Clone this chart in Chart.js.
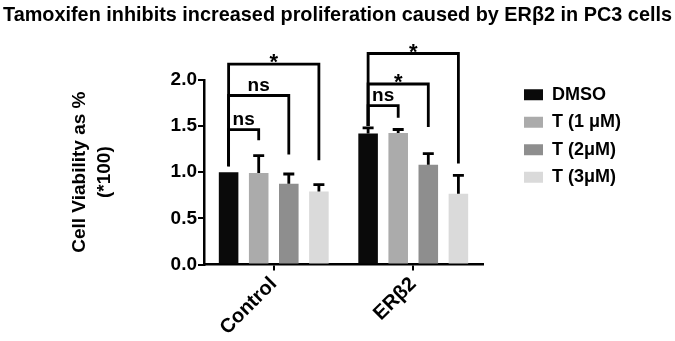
<!DOCTYPE html>
<html>
<head>
<meta charset="utf-8">
<script src="https://cdn.jsdelivr.net/npm/chart.js@4.4.0/dist/chart.umd.min.js"></script>
<style>
  html, body { margin: 0; padding: 0; background: #fff; }
  #wrap { width: 675px; height: 341px; }
</style>
</head>
<body>
<div id="wrap"><canvas id="chart"></canvas></div>
<script>
// data
const categories = ['Control', 'ERβ2'];
const seriesNames = ['DMSO', 'T (1 μM)', 'T (2μM)', 'T (3μM)'];
const dmso = [1.0, 1.42];
const t1 = [0.99, 1.425];
const t2 = [0.875, 1.08];
const t3 = [0.79, 0.765];
// upper error (SD) per series
const dmsoErr = [0, 0.06];
const t1Err = [0.19, 0.037];
const t2Err = [0.105, 0.12];
const t3Err = [0.075, 0.2];
const yTicks = [0, 0.5, 1.0, 1.5, 2.0];

// significance brackets: category, compared series, height, left foot, right foot, label
const bracketCat = [0, 0, 0, 1, 1, 1];
const bracketTo = [1, 2, 3, 1, 2, 3];
const bracketTop = [1.46, 1.83, 2.17, 1.72, 1.955, 2.285];
const bracketLeftFoot = [1.065, 1.065, 1.065, 1.5, 1.5, 1.5];
const bracketRightFoot = [1.345, 1.19, 1.13, 1.59, 1.49, 1.095];
const bracketLabel = ['ns', 'ns', '*', 'ns', '*', '*'];

const series = [dmso, t1, t2, t3];
const errors = [dmsoErr, t1Err, t2Err, t3Err];
const colors = ['#0a0a0a', '#ababab', '#8e8e8e', '#dadada'];

Chart.defaults.font.family = '"Liberation Sans", Arial, sans-serif';
Chart.defaults.color = '#000';

const annotations = {
  id: 'annotations',
  afterLayout(chart) {
    // nudge legend up a little so rows line up with the figure
    chart.legend.top -= 3.5;
    chart.legend.bottom -= 3.5;
  },
  afterDatasetsDraw(chart) {
    const ctx = chart.ctx;
    const y = chart.scales.y;
    ctx.save();
    ctx.strokeStyle = '#000';
    ctx.lineWidth = 2.8;
    ctx.lineCap = 'butt';
    ctx.lineJoin = 'miter';

    // error bars (upper only)
    errors.forEach((errs, d) => {
      const meta = chart.getDatasetMeta(d);
      errs.forEach((e, i) => {
        if (!e) return;
        const bar = meta.data[i];
        const yt = y.getPixelForValue(series[d][i] + e);
        ctx.beginPath();
        ctx.moveTo(bar.x, bar.y);
        ctx.lineTo(bar.x, yt);
        ctx.moveTo(bar.x - 5.5, yt);
        ctx.lineTo(bar.x + 5.5, yt);
        ctx.stroke();
      });
    });

    // brackets
    ctx.fillStyle = '#000';
    ctx.textAlign = 'center';
    ctx.textBaseline = 'alphabetic';
    bracketLabel.forEach((lab, k) => {
      const c = bracketCat[k];
      const x0 = chart.getDatasetMeta(0).data[c].x;
      const x1 = chart.getDatasetMeta(bracketTo[k]).data[c].x;
      const yTop = y.getPixelForValue(bracketTop[k]);
      ctx.beginPath();
      ctx.moveTo(x0, y.getPixelForValue(bracketLeftFoot[k]));
      ctx.lineTo(x0, yTop);
      ctx.lineTo(x1, yTop);
      ctx.lineTo(x1, y.getPixelForValue(bracketRightFoot[k]));
      ctx.stroke();
      const tx = (x0 + x1) / 2;
      if (lab === '*') {
        ctx.font = 'bold 22px "Liberation Sans", Arial, sans-serif';
        ctx.fillText(lab, tx, yTop + 5);
      } else {
        ctx.font = 'bold 19px "Liberation Sans", Arial, sans-serif';
        ctx.fillText(lab, tx, yTop - 4.5);
      }
    });
    ctx.restore();
  }
};

new Chart(document.getElementById('chart'), {
  type: 'bar',
  data: {
    labels: categories,
    datasets: series.map((s, i) => ({
      label: seriesNames[i],
      data: s,
      backgroundColor: colors[i],
      borderWidth: 0,
      categoryPercentage: 0.863,
      barPercentage: 0.65,
      yAxisID: 'y'
    }))
  },
  options: {
    responsive: true,
    maintainAspectRatio: false,
    animation: false,
    layout: { padding: 0 },
    plugins: {
      title: {
        display: true,
        text: 'Tamoxifen inhibits increased proliferation caused by ERβ2 in PC3 cells',
        color: '#000',
        font: { size: 19.85, weight: 'bold' },
        padding: { top: 4, bottom: 52 }
      },
      legend: {
        position: 'right',
        align: 'start',
        fullSize: false,
        maxWidth: 150,
        labels: {
          boxWidth: 19,
          boxHeight: 11,
          padding: 9.5,
          color: '#000',
          font: { size: 18, weight: 'bold' }
        }
      },
      tooltip: { enabled: false }
    },
    scales: {
      x: {
        ticks: { color: '#000', font: { size: 20, weight: 'bold' }, minRotation: 45, maxRotation: 45, padding: 2 },
        grid: { drawOnChartArea: false, drawTicks: true, tickLength: 6, color: '#000', lineWidth: 2, offset: false },
        border: { color: '#000', width: 2.5 },
        afterFit: s => { s.height = 76.5; }
      },
      y: {
        min: 0,
        max: 2,
        afterBuildTicks: s => { s.ticks = yTicks.map(v => ({ value: v })); },
        ticks: { color: '#000', font: { size: 19, weight: 'bold' }, padding: 1, callback: v => v.toFixed(1) },
        grid: { drawOnChartArea: false, drawTicks: true, tickLength: 6, color: '#000', lineWidth: 2 },
        border: { color: '#000', width: 2.5 },
        title: {
          display: true,
          text: ['Cell Viability as %', '(*100)'],
          color: '#000',
          font: { size: 19, weight: 'bold', lineHeight: 25 / 19 },
          padding: { top: 67.5, bottom: 0 }
        },
        afterFit: s => { s.width = 204; }
      },
      // empty space between plot and legend
      gap: {
        position: 'right',
        display: true,
        ticks: { display: false },
        grid: { display: false },
        border: { display: false },
        afterFit: s => { s.width = 31.5; }
      },
      // empty space right of the legend
      edge: {
        position: 'right',
        weight: 2000,
        display: true,
        ticks: { display: false },
        grid: { display: false },
        border: { display: false },
        afterFit: s => { s.width = 44; }
      }
    }
  },
  plugins: [annotations]
});
</script>
</body>
</html>
